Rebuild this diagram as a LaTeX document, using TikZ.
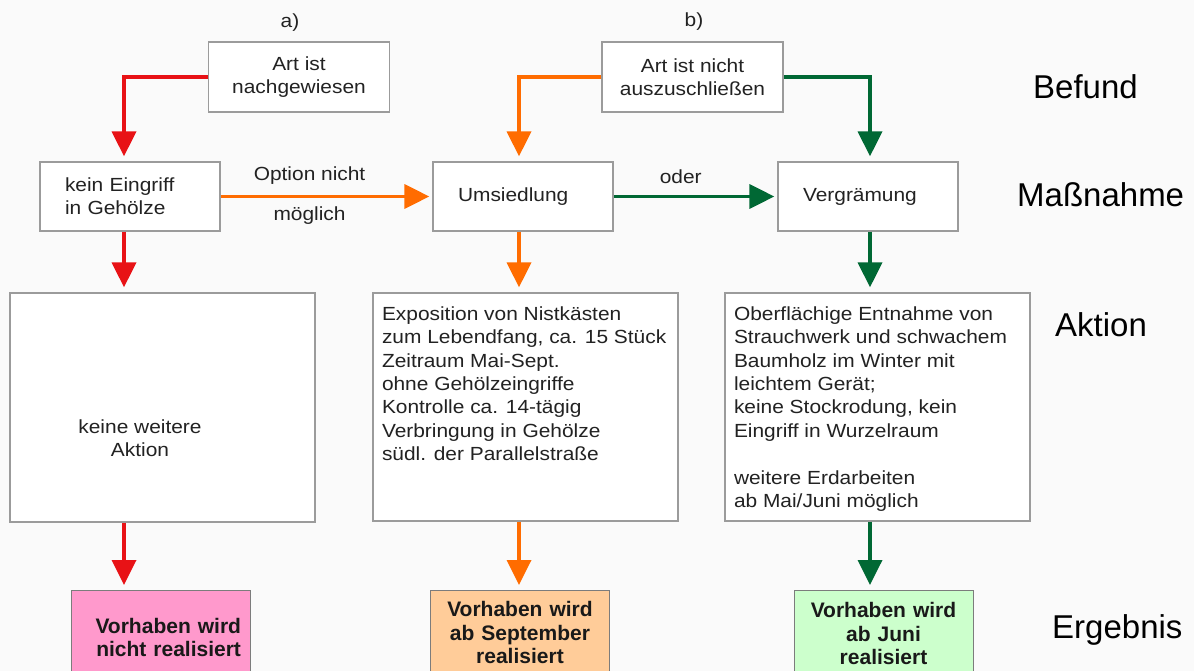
\documentclass[tikz,border=0pt]{standalone}
\usepackage{fontspec}
\setmainfont{Liberation Sans}
\newfontfamily\kastenschrift[FakeStretch=1.1]{Liberation Sans}
\usetikzlibrary{arrows.meta}

\definecolor{pfeilrot}{RGB}{232,18,22}
\definecolor{pfeilorange}{RGB}{255,108,0}
\definecolor{pfeilgruen}{RGB}{0,104,52}
\definecolor{rahmengrau}{RGB}{155,155,155}
\definecolor{fuellrosa}{RGB}{255,153,204}
\definecolor{fuellorange}{RGB}{255,204,153}
\definecolor{fuellgruen}{RGB}{204,255,204}
\definecolor{schrift}{RGB}{34,34,34}

\tikzset{
	kasten/.style={draw=rahmengrau, line width=1.3pt, fill=white, inner sep=0pt, text=schrift, font=\kastenschrift\fontsize{19}{23.4}\selectfont},
	befundkasten/.style={kasten, minimum width=181pt, minimum height=70pt, align=center},
	massnkasten/.style={kasten, minimum height=69pt, inner xsep=25pt, text width=130pt, align=left},
	aktionkasten/.style={kasten, inner xsep=9pt, inner ysep=11pt},
	ergkasten/.style={draw=rahmengrau!80!black, line width=1pt, inner xsep=0pt, anchor=north, text width=179pt, align=center, text=black!90, font=\bfseries\fontsize{21}{23.4}\selectfont},
	beschrift/.style={text=schrift, inner sep=0pt, font=\kastenschrift\fontsize{19}{23.4}\selectfont},
	ebene/.style={anchor=west, inner sep=0pt, text=black, font=\fontsize{33}{40}\selectfont},
	pfeil/.style={line width=3.6pt, -{Triangle[width=24pt,length=25pt]}, shorten >=5pt}
}

\begin{document}
\begin{tikzpicture}[x=1pt,y=-1pt]
	\useasboundingbox (0,0) rectangle (1194,671);
	\clip (0,0) rectangle (1194,671);
	\fill[white!98!black] (0,0) rectangle (1194,671);

	\coordinate (spalteA) at (124,0);
	\coordinate (spalteB) at (519,0);
	\coordinate (spalteC) at (870,0);

	\node[beschrift] (titelA) at (290,23) {a)};
	\node[beschrift] (titelB) at (694,22) {b)};

	\node[befundkasten] (befA) at (299,77) {Art ist\\nachgewiesen};
	\node[befundkasten] (befB) at (692.5,77) {Art ist nicht\\auszuschließen};

	\node[massnkasten] (keinEingriff) at (130,196.5) {kein Eingriff\\in Gehölze};
	\node[massnkasten] (umsiedlung) at (523,196.5) {Umsiedlung};
	\node[massnkasten] (vergraemung) at (868,196.5) {Vergrämung};

	\node[kasten, minimum width=305pt, minimum height=229pt] (aktA) at (162.5,407.5) {};
	\node[beschrift, align=center] (aktAtext) at (140,438) {keine weitere\\Aktion};
	\node[aktionkasten] (aktB) at (525.5,407) {\parbox[c][206pt][t]{287pt}{\strut Exposition von Nistkästen\\zum Lebendfang, ca. 15 Stück\\Zeitraum Mai-Sept.\\ohne Gehölzeingriffe\\Kontrolle ca. 14-tägig\\Verbringung in Gehölze\\südl. der Parallelstraße}};
	\node[aktionkasten] (aktC) at (877.5,407) {\parbox[c][206pt][t]{287pt}{\strut Oberflächige Entnahme von\\Strauchwerk und schwachem\\Baumholz im Winter mit\\leichtem Gerät;\\keine Stockrodung, kein\\Eingriff in Wurzelraum\\[23.4pt]weitere Erdarbeiten\\ab Mai/Juni möglich}};

	\node[ergkasten, fill=fuellrosa, minimum height=94pt, text width=161pt, inner xsep=9pt, align=right] (ergA) at (160.5,590) {Vorhaben wird\\nicht realisiert};
	\node[ergkasten, fill=fuellorange, minimum height=84pt] (ergB) at (520,590) {Vorhaben wird\\ab September\\realisiert};
	\node[ergkasten, fill=fuellgruen, minimum height=86pt] (ergC) at (883.5,590) {Vorhaben wird\\ab Juni\\realisiert};

	\node[ebene] (befund) at (1033,87) {Befund};
	\node[ebene] (massnahme) at (1017,195) {Maßnahme};
	\node[ebene] (aktion) at (1055,325) {Aktion};
	\node[ebene] (ergebnis) at (1052,629.5) {Ergebnis};

	\draw[pfeil, pfeilrot] (befA.west) -| (spalteA |- keinEingriff.north);
	\draw[pfeil, pfeilrot] (spalteA |- keinEingriff.south) -- (spalteA |- aktA.north);
	\draw[pfeil, pfeilrot] (spalteA |- aktA.south) -- (spalteA |- ergA.north);

	\draw[pfeil, pfeilorange] (befB.west) -| (spalteB |- umsiedlung.north);
	\draw[pfeil, pfeilorange] (spalteB |- umsiedlung.south) -- (spalteB |- aktB.north);
	\draw[pfeil, pfeilorange] (spalteB |- aktB.south) -- (spalteB |- ergB.north);

	\draw[pfeil, pfeilgruen] (befB.east) -| (spalteC |- vergraemung.north);
	\draw[pfeil, pfeilgruen] (spalteC |- vergraemung.south) -- (spalteC |- aktC.north);
	\draw[pfeil, pfeilgruen] (spalteC |- aktC.south) -- (spalteC |- ergC.north);

	\draw[pfeil, pfeilorange, shorten >=3pt] (keinEingriff.east) -- node[beschrift, pos=.42, yshift=21pt] (optionText) {Option nicht} node[beschrift, pos=.42, yshift=-19pt] (moeglichText) {möglich} (umsiedlung.west);
	\draw[pfeil, pfeilgruen, shorten >=3pt] (umsiedlung.east) -- node[beschrift, pos=.41, yshift=20pt] (oderText) {oder} (vergraemung.west);
\end{tikzpicture}
\end{document}
